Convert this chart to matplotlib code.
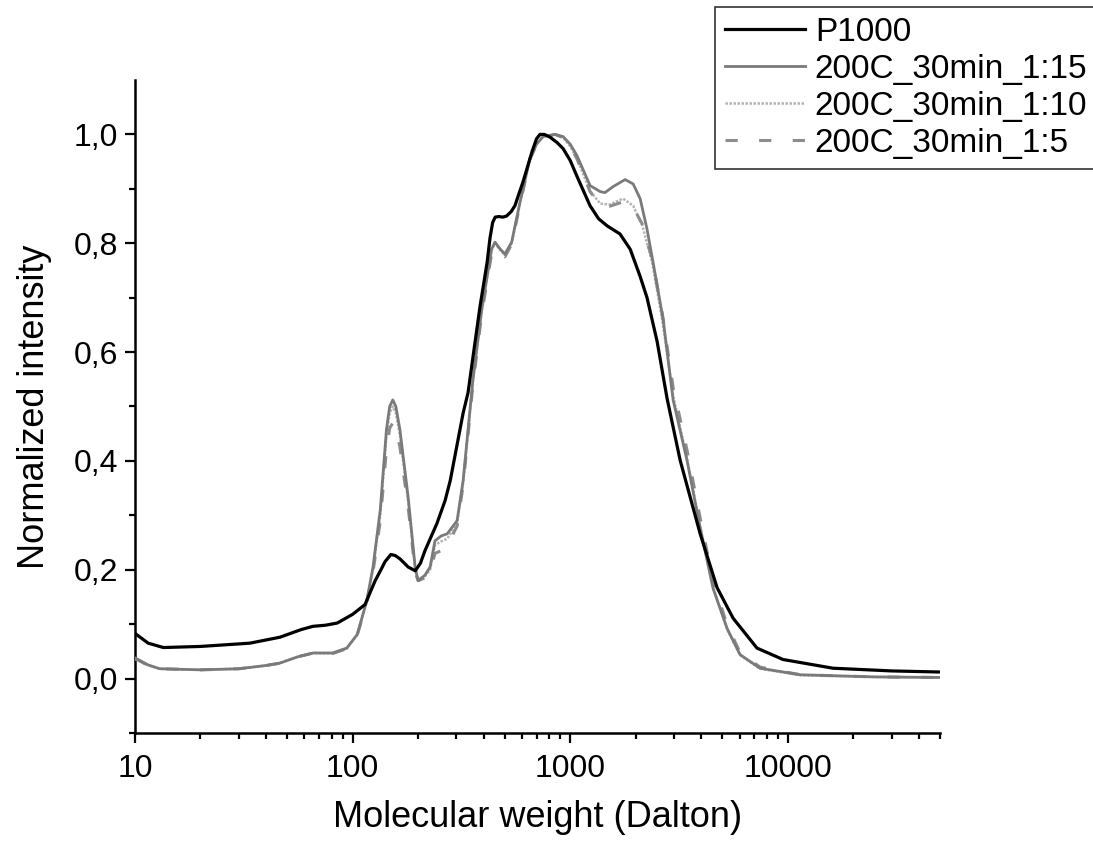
import matplotlib
matplotlib.use("Agg")
import matplotlib.pyplot as plt
from matplotlib.ticker import FixedLocator, FuncFormatter, NullFormatter

plt.rcParams['font.family'] = ['Liberation Sans', 'DejaVu Sans']

# =========================
# DATA
# =========================

p1000_x = [10, 11.5, 13.5, 20, 33.7, 46.4, 58, 65.8, 75, 85, 100, 114, 127, 135, 141,
           150, 157, 165, 180, 194, 205, 215, 244, 266, 281, 322, 339, 385, 400, 415,
           428, 440, 452, 470, 490, 510, 535, 557, 580, 607, 667, 700, 726, 760, 807,
           870, 927, 1000, 1071, 1233, 1350, 1477, 1693, 1886, 2095, 2253, 2506, 2785,
           3200, 3954, 4730, 5600, 7210, 9500, 16100, 30000, 50000]
p1000_y = [0.083, 0.065, 0.057, 0.059, 0.065, 0.076, 0.090, 0.096, 0.098, 0.102, 0.118,
           0.136, 0.180, 0.200, 0.215, 0.228, 0.226, 0.220, 0.205, 0.198, 0.212, 0.235,
           0.285, 0.327, 0.364, 0.488, 0.525, 0.684, 0.725, 0.765, 0.810, 0.838, 0.848,
           0.849, 0.848, 0.850, 0.858, 0.869, 0.890, 0.913, 0.968, 0.992, 1.0, 1.0,
           0.995, 0.985, 0.974, 0.952, 0.924, 0.869, 0.845, 0.832, 0.817, 0.789, 0.739,
           0.700, 0.620, 0.515, 0.401, 0.266, 0.167, 0.111, 0.056, 0.035, 0.019, 0.014,
           0.012]

s15_x = [10, 11.5, 13, 20, 30, 40, 46, 56, 66, 81, 94, 105, 116, 124, 134, 143, 148, 153,
         158, 165, 180, 194, 200, 215, 227, 239, 255, 272, 302, 322, 357, 392, 435,
         451, 475, 501, 538, 588, 653, 700, 750, 851, 927, 1000, 1074, 1233, 1371, 1443,
         1574, 1787, 1945, 2095, 2253, 2402, 2673, 2970, 3440, 3954, 4530, 5260, 6030,
         7450, 11400, 25000, 50000]
s15_y = [0.038, 0.025, 0.018, 0.016, 0.018, 0.024, 0.028, 0.040, 0.047, 0.047, 0.056,
         0.081, 0.142, 0.204, 0.310, 0.457, 0.500, 0.512, 0.500, 0.457, 0.333, 0.203,
         0.180, 0.190, 0.205, 0.253, 0.262, 0.266, 0.290, 0.364, 0.549, 0.678, 0.789,
         0.802, 0.790, 0.780, 0.802, 0.876, 0.956, 0.982, 0.996, 1.0, 0.996, 0.982,
         0.961, 0.906, 0.895, 0.893, 0.904, 0.917, 0.909, 0.882, 0.826, 0.765, 0.660,
         0.512, 0.401, 0.277, 0.166, 0.092, 0.044, 0.019, 0.007, 0.003, 0.002]

s10_x = [10, 11.5, 13, 20, 30, 40, 46, 56, 66, 81, 94, 105, 116, 124, 134, 143, 148, 153,
         158, 165, 180, 194, 200, 215, 227, 239, 255, 272, 302, 322, 357, 392, 435,
         451, 475, 501, 538, 588, 653, 700, 750, 851, 927, 1000, 1074, 1233, 1371, 1517,
         1748, 1945, 2145, 2378, 2645, 2970, 3440, 3954, 4530, 5260, 6030, 7450, 11400,
         25000, 50000]
s10_y = [0.036, 0.024, 0.018, 0.016, 0.018, 0.024, 0.028, 0.040, 0.047, 0.046, 0.055,
         0.080, 0.140, 0.200, 0.300, 0.445, 0.488, 0.500, 0.488, 0.447, 0.325, 0.200,
         0.178, 0.188, 0.200, 0.245, 0.252, 0.257, 0.285, 0.360, 0.545, 0.675, 0.787,
         0.800, 0.788, 0.778, 0.800, 0.874, 0.955, 0.982, 0.996, 1.0, 0.994, 0.978,
         0.955, 0.896, 0.873, 0.871, 0.882, 0.869, 0.832, 0.765, 0.660, 0.520, 0.405,
         0.280, 0.168, 0.090, 0.043, 0.018, 0.006, 0.003, 0.002]

s5_x = [10, 11.5, 13, 20, 30, 40, 46, 56, 66, 81, 94, 105, 116, 124, 134, 143, 148, 153,
        158, 165, 180, 194, 200, 215, 227, 239, 255, 272, 302, 322, 357, 392, 435,
        451, 475, 501, 538, 588, 653, 700, 750, 851, 927, 1000, 1074, 1233, 1371, 1517,
        1748, 1945, 2145, 2378, 2645, 2970, 3440, 3954, 4530, 5260, 6030, 7450, 11400,
        25000, 50000]
s5_y = [0.037, 0.024, 0.018, 0.016, 0.018, 0.024, 0.028, 0.040, 0.047, 0.046, 0.055,
        0.080, 0.138, 0.195, 0.290, 0.420, 0.460, 0.470, 0.460, 0.425, 0.315, 0.195,
        0.180, 0.185, 0.195, 0.230, 0.235, 0.245, 0.280, 0.355, 0.540, 0.670, 0.780,
        0.790, 0.782, 0.775, 0.798, 0.872, 0.954, 0.981, 0.995, 1.0, 0.994, 0.978,
        0.955, 0.895, 0.870, 0.868, 0.876, 0.866, 0.835, 0.772, 0.672, 0.535, 0.420,
        0.295, 0.180, 0.098, 0.048, 0.021, 0.007, 0.003, 0.002]

labels = ["P1000", "200C_30min_1:15", "200C_30min_1:10", "200C_30min_1:5"]

# =========================
# PLOT
# =========================

fig = plt.figure(figsize=(10.93, 8.42), dpi=100)
ax = fig.add_axes([0.1235, 0.1295, 0.7365, 0.7755])

ax.plot(p1000_x, p1000_y, color="black", lw=2.3, label=labels[0], zorder=5)
ax.plot(s15_x, s15_y, color="#7a7a7a", lw=2.0, label=labels[1], zorder=4)
ax.plot(s10_x, s10_y, color="#b4b4b4", lw=1.8, ls=(0, (1, 0.6)), label=labels[2], zorder=3)
ax.plot(s5_x, s5_y, color="#8c8c8c", lw=2.2, ls=(0, (4, 7)), label=labels[3], zorder=3)

ax.set_xscale("log")
ax.set_xlim(10, 50000)
ax.set_ylim(-0.1, 1.1)

ax.xaxis.set_major_locator(FixedLocator([10, 100, 1000, 10000]))
minor_x = [m * 10 ** e for e in range(1, 5) for m in range(2, 10) if m * 10 ** e <= 50000]
ax.xaxis.set_minor_locator(FixedLocator(minor_x))
ax.xaxis.set_major_formatter(FuncFormatter(lambda v, p: "%d" % v))
ax.xaxis.set_minor_formatter(NullFormatter())

ax.yaxis.set_major_locator(FixedLocator([0.0, 0.2, 0.4, 0.6, 0.8, 1.0]))
ax.yaxis.set_minor_locator(FixedLocator([-0.1, 0.1, 0.3, 0.5, 0.7, 0.9]))
ax.yaxis.set_major_formatter(FuncFormatter(lambda v, p: ("%.1f" % v).replace(".", ",")))

for s in ["top", "right"]:
    ax.spines[s].set_visible(False)
for s in ["left", "bottom"]:
    ax.spines[s].set_linewidth(1.8)

ax.tick_params(axis="both", which="major", length=7, width=1.6, direction="out", labelsize=23)
ax.tick_params(axis="both", which="minor", length=4, width=1.6, direction="out")
ax.tick_params(axis="x", which="major", pad=8)
ax.tick_params(axis="y", which="major", pad=5)

ax.set_xlabel("Molecular weight (Dalton)", fontsize=26, labelpad=12)
ax.set_ylabel("Normalized intensity", fontsize=26, labelpad=16)

leg = fig.legend(loc="upper left", bbox_to_anchor=(0.654, 0.992), fontsize=24,
                 frameon=True, fancybox=False, handlelength=2.4, handletextpad=0.3,
                 labelspacing=0.18, borderpad=0.3, borderaxespad=0)
leg.get_frame().set_edgecolor("black")
leg.get_frame().set_linewidth(1.2)

fig.savefig("out.png", dpi=100)
